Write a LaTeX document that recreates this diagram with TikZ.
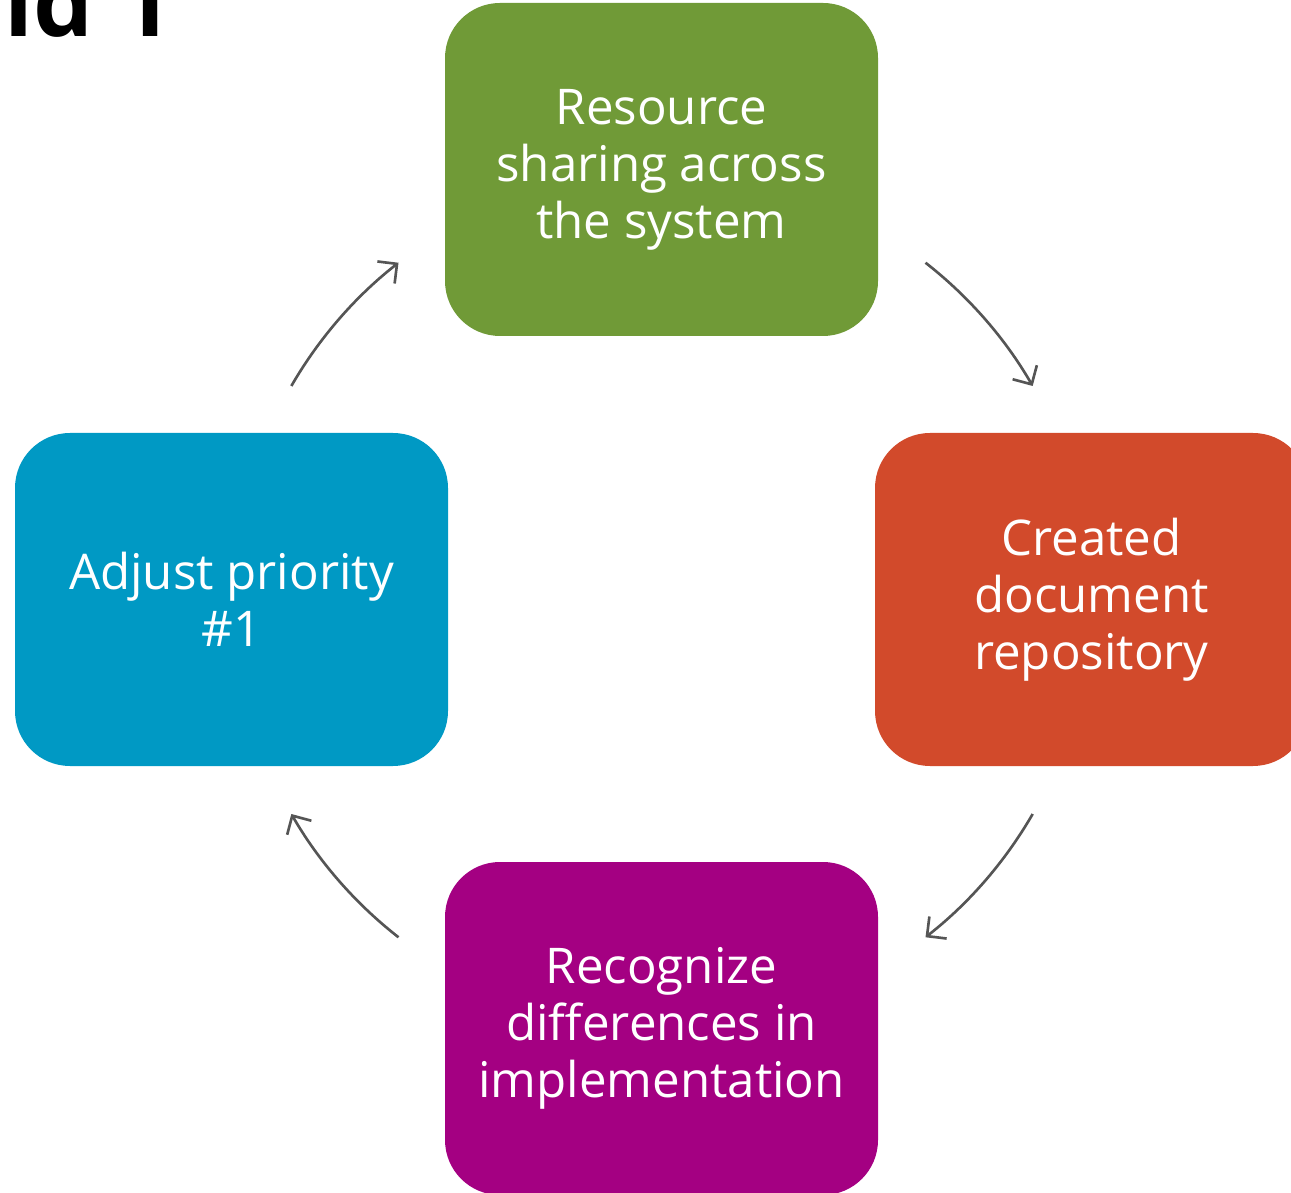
\documentclass[tikz,border=0pt]{standalone}
\usepackage{fontspec}
\setmainfont{Open Sans}
\usetikzlibrary{arrows.meta}

\definecolor{phasegreen}  {RGB}{112,154,55}
\definecolor{phasered}    {RGB}{210,74,43}
\definecolor{phaseblue}   {RGB}{0,153,196}
\definecolor{phasepurple} {RGB}{164,0,130}
\definecolor{cyclegray}   {RGB}{85,85,85}

\newcommand{\rad}  {4.28}
\newcommand{\bodyfont}{\fontsize{14}{16.2}\selectfont}

\tikzset{
  phase/.style={rounded corners=0.55cm, minimum width=4.33cm,
    minimum height=3.33cm, inner sep=0pt, text=white, align=center,
    font=\bodyfont},
  cyc/.style={draw=cyclegray, line width=0.75pt,
    -{Straight Barb[length=1.4mm,width=2.8mm]}}
}

\begin{document}
\begin{tikzpicture}
  \useasboundingbox (0,0) rectangle (12.91,11.92);
  % title, cut off by the page edge
  \node[anchor=base west, inner sep=0pt, font=\bfseries\fontsize{27}{32}\selectfont]
    (title) at (0.04,11.55) {ld 1};
  % the four phases
  \node[phase, fill=phasegreen]  (share)  at (6.615,10.225)
    {Resource\\sharing across\\the system};
  \node[phase, fill=phasered]    (repo)   at (10.915,5.925)
    {Created\\document\\repository};
  \node[phase, fill=phasepurple] (differ) at (6.615,1.635)
    {Recognize\\differences in\\implementation};
  \node[phase, fill=phaseblue]   (adjust) at (2.315,5.925)
    {Adjust priority\\\#1};
  % arcs round the middle
  \coordinate (hub) at (6.62,5.92);
  \coordinate (a1) at ([shift={(150:\rad)}]hub);
  \coordinate (a2) at ([shift={(52:\rad)}]hub);
  \coordinate (a3) at ([shift={(-30:\rad)}]hub);
  \coordinate (a4) at ([shift={(-128:\rad)}]hub);
  \draw[cyc] (a1) arc[start angle=150, end angle=128, radius=\rad];
  \draw[cyc] (a2) arc[start angle=52,  end angle=30,  radius=\rad];
  \draw[cyc] (a3) arc[start angle=-30, end angle=-52, radius=\rad];
  \draw[cyc] (a4) arc[start angle=-128,end angle=-150,radius=\rad];
\end{tikzpicture}
\end{document}
